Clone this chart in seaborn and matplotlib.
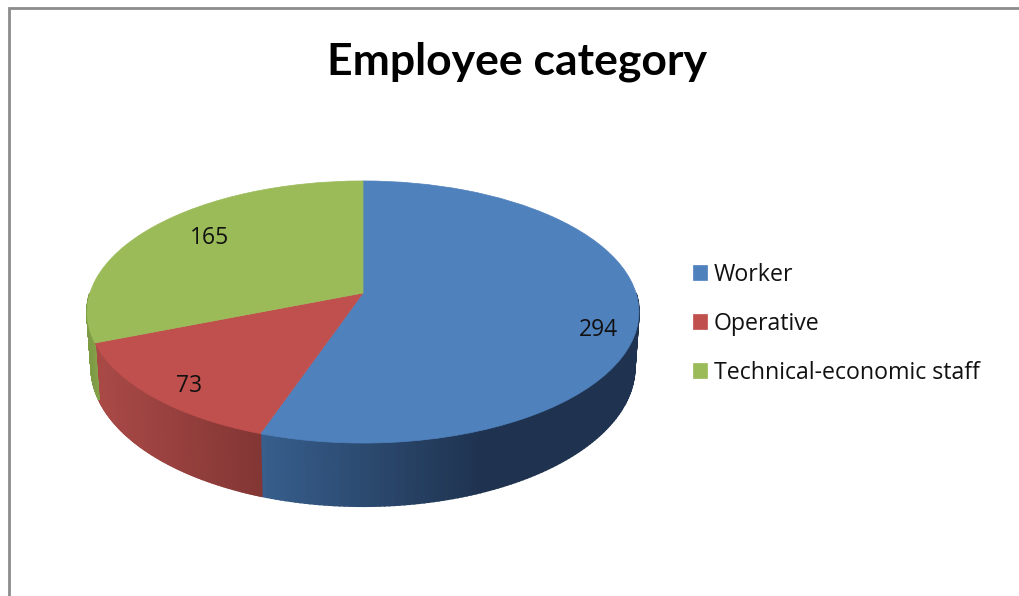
import numpy as np
import matplotlib
matplotlib.use('Agg')
import matplotlib.pyplot as plt
from matplotlib.transforms import Transform
import seaborn as sns

categories = ['Worker', 'Operative', 'Technical-economic staff']
values = [294, 73, 165]
top_colors = ['#4f81bd', '#c0504d', '#9bbb59']
# side wall colours, light end then dark end
wall_colors = [('#375e8c', '#1f3350'), ('#a84946', '#823634'), ('#8aa84e', '#7d9a44')]
wall_x = [(260, 480), (100, 260), (87, 100)]

sns.set_theme(style='white')
plt.rcParams['font.family'] = ['Open Sans', 'DejaVu Sans']


# pie tilted in perspective, apex sits above the middle of the ellipse
def project(u, v):
    w = 1 + 0.145 * v
    return 363 + 273 * u / w, 293 - 128.3 * v / w


class Tilt(Transform):
    input_dims = 2
    output_dims = 2

    def transform_non_affine(self, values):
        values = np.asarray(values)
        x, y = project(values[:, 0], values[:, 1])
        return np.column_stack([x, y])


fig, ax = plt.subplots(figsize=(10.19, 5.96), dpi=100)
fig.subplots_adjust(0, 0, 1, 1)

wedges, _ = ax.pie(values, colors=top_colors, startangle=90, counterclock=False,
                   wedgeprops={'linewidth': 0, 'zorder': 3})
for wedge, col in zip(wedges, top_colors):
    wedge.set_transform(Tilt() + ax.transData)
    wedge.set_clip_on(False)
    wedge.set_edgecolor(col)
    wedge.set_linewidth(0.5)

ax.set_aspect('auto')
ax.set_xlim(0, 1019)
ax.set_ylim(596, 0)
ax.axis('off')

# side wall, thin strips so the shading runs left to right
edges = np.cumsum([0] + values) / sum(values) * 360
for i in range(len(values)):
    pal = sns.blend_palette(wall_colors[i], 64)
    start = max(edges[i], 90)
    stop = min(edges[i + 1], 270)
    angles = np.radians(np.linspace(start, stop, 120))
    for a, b in zip(angles[:-1], angles[1:]):
        t = np.array([a, b])
        u, v = np.sin(t), np.cos(t)
        x, y = project(u, v)
        depth = 54 / (1 + 0.145 * v)
        xb = 363 + (x - 363) * 0.985
        yb = y + depth
        frac = np.interp(x.mean(), wall_x[i], [0, 1])
        if i == 2:
            frac = 1 - frac
        color = pal[int(frac * 63)]
        ax.fill([x[0], x[1], xb[1], xb[0]], [y[0], y[1], yb[1], yb[0]],
                color=color, lw=1.2, zorder=2)

# chart frame, runs off the right and bottom of the picture
ax.plot([9.5, 9.5, 1019], [596, 7.5, 7.5], color='#8c8c8c', lw=2, zorder=1,
        solid_joinstyle='miter')

ax.text(517, 62, 'Employee category', ha='center', va='center', fontsize=32,
        fontweight='bold', family=['Lato', 'DejaVu Sans'], color='black')

label_pos = [(598, 330), (189, 386), (210, 238)]
for val, pos in zip(values, label_pos):
    ax.text(pos[0], pos[1], str(val), ha='center', va='center', fontsize=16.5, color='#111111', zorder=5)

ax.legend(wedges, categories, loc='center left', bbox_to_anchor=(0.68, 0.457), frameon=False,
          fontsize=16.7, handlelength=0.6, handleheight=0.6, handletextpad=0.3,
          labelspacing=1.08, labelcolor='#111111', borderpad=0, borderaxespad=0)

plt.savefig('out.png', dpi=100)
